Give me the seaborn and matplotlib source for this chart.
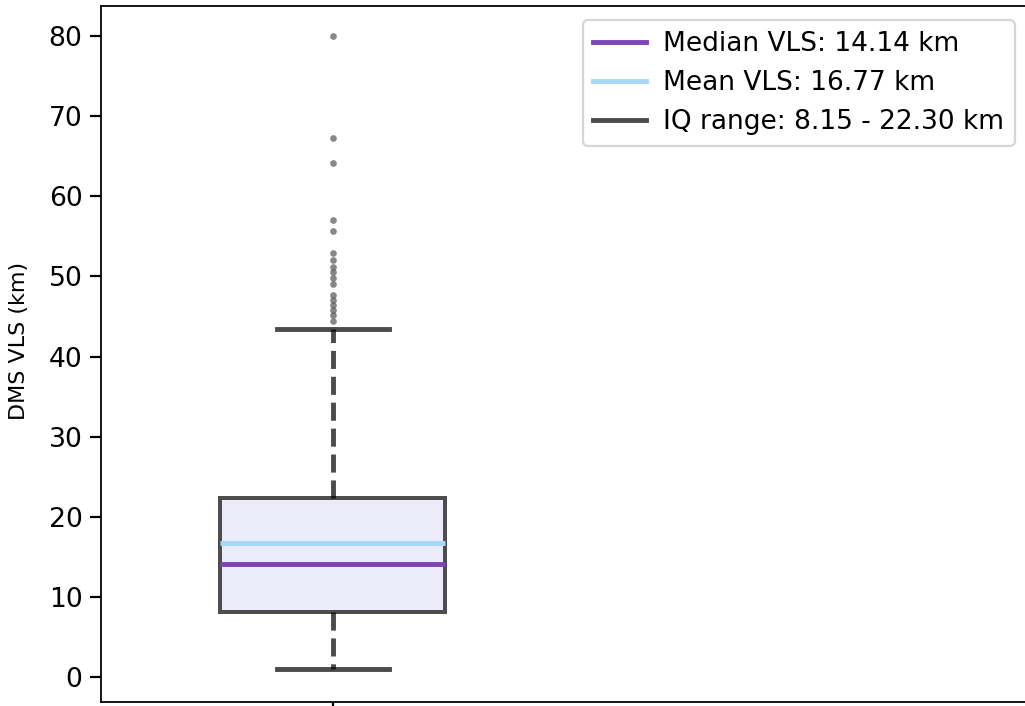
import matplotlib
matplotlib.use("Agg")
import matplotlib.pyplot as plt
from matplotlib.lines import Line2D
import seaborn as sns

# summary: whisker low, Q1, median, Q3, whisker high
box_values = [1.0, 8.15, 14.14, 22.30, 43.4]
mean_vls = 16.77
# points above the upper whisker
outliers = [80.0, 67.3, 64.2, 57.0, 55.7, 52.9, 52.1, 51.2, 50.6, 49.8,
            49.1, 47.7, 47.1, 46.4, 45.8, 45.2, 44.4]

median_col = '#7D45B5'
mean_col = '#A5D8F7'
line_col = '#4D4D4D'
box_w = 0.485

fig = plt.figure(figsize=(1025 / 160, 706 / 160), dpi=160)
ax = fig.add_axes([0.0985, 0.0057, 0.9054, 0.9858])

sns.boxplot(y=box_values, ax=ax, width=box_w, color='#EBEBF9', saturation=1,
            linecolor=line_col, linewidth=1.8, showfliers=False,
            whiskerprops=dict(color='black', alpha=0.7, linestyle='--', linewidth=2.2),
            capprops=dict(color='black', alpha=0.7, linewidth=2.2),
            medianprops=dict(color=median_col, linewidth=2.2))

# mean line across the box
ax.hlines(mean_vls, -box_w / 2, box_w / 2, color=mean_col, linewidth=2.2, zorder=3)

# outliers
sns.stripplot(y=outliers, ax=ax, jitter=False, color='#555555', alpha=0.7,
              size=3.0, linewidth=0)

ax.set_xlim(-0.5, 1.5)
ax.set_ylim(-3.1, 83.75)
ax.set_xticks([0])
ax.set_xticklabels([''])
ax.tick_params(axis='both', labelsize=12, length=4.8, width=1.0)
ax.set_ylabel('DMS VLS (km)', fontsize=10)
ax.yaxis.set_label_coords(-0.078, 0.519)

handles = [Line2D([0], [0], color=median_col, linewidth=2.2),
           Line2D([0], [0], color=mean_col, linewidth=2.2),
           Line2D([0], [0], color=line_col, linewidth=2.2)]
labels = [f'Median VLS: {box_values[2]:.2f} km',
          f'Mean VLS: {mean_vls:.2f} km',
          f'IQ range: {box_values[1]:.2f} - {box_values[3]:.2f} km']
ax.legend(handles, labels, loc='upper right', fontsize=11.85,
          handletextpad=0.65, borderaxespad=0.55)

fig.savefig('out.png', dpi=160)
